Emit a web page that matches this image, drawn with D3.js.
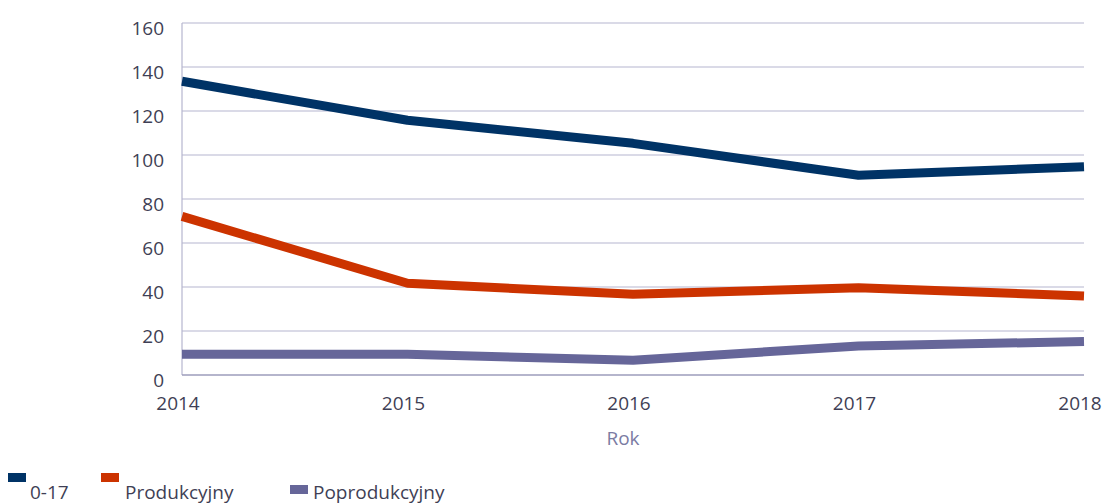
<!DOCTYPE html>
<html>
<head>
<meta charset="utf-8">
<script src="https://cdn.jsdelivr.net/npm/d3@7"></script>
<style>
  body { margin: 0; background: #fff; }
  svg { display: block; font-family: "Open Sans", sans-serif; }
</style>
</head>
<body>
<svg id="chart" width="1104" height="504"></svg>
<script>
const years = ["2014", "2015", "2016", "2017", "2018"];
const yTicks = [0, 20, 40, 60, 80, 100, 120, 140, 160];
const seriesNames = ["0-17", "Produkcyjny", "Poprodukcyjny"];
const seriesColors = ["#003366", "#cc3300", "#666699"];
const valsChildren = [133.5, 115.8, 105.3, 90.8, 94.7];
const valsWorking = [72.1, 41.7, 36.7, 39.7, 35.9];
const valsRetired = [9.4, 9.4, 6.7, 13.2, 15.2];

const allSeries = [valsChildren, valsWorking, valsRetired];

const svg = d3.select("#chart");
const plotLeft = 182, plotRight = 1084, plotTop = 23, plotBottom = 375;

const x = d3.scalePoint().domain(years).range([plotLeft, plotRight]);
const y = d3.scaleLinear().domain([0, 160]).range([plotBottom, plotTop]);

// gridlines
svg.append("g")
  .selectAll("line")
  .data(yTicks.filter(d => d > 0))
  .join("line")
  .attr("x1", plotLeft).attr("x2", plotRight)
  .attr("y1", d => y(d)).attr("y2", d => y(d))
  .attr("stroke", "#b6b6cf").attr("stroke-width", 1.2);

// axis lines
svg.append("line")
  .attr("x1", plotLeft).attr("x2", plotLeft).attr("y1", plotTop).attr("y2", plotBottom)
  .attr("stroke", "#b6b6cf").attr("stroke-width", 1.2);
svg.append("line")
  .attr("x1", plotLeft).attr("x2", plotRight).attr("y1", plotBottom).attr("y2", plotBottom)
  .attr("stroke", "#9d9dbb").attr("stroke-width", 1.4);

// y labels
svg.append("g")
  .attr("font-size", 19).attr("fill", "#3f3f55").attr("text-anchor", "end")
  .selectAll("text")
  .data(yTicks)
  .join("text")
  .attr("x", 164)
  .attr("y", d => y(d) + 5)
  .attr("dy", "0.35em")
  .text(d => d);

// x labels
svg.append("g")
  .attr("font-size", 19).attr("fill", "#3f3f55").attr("text-anchor", "middle")
  .selectAll("text")
  .data(years)
  .join("text")
  .attr("x", d => x(d) - 4)
  .attr("y", 403)
  .attr("dy", "0.35em")
  .text(d => d);

svg.append("text")
  .attr("x", 623).attr("y", 438).attr("dy", "0.35em")
  .attr("font-size", 19).attr("fill", "#7b7ba3").attr("text-anchor", "middle")
  .text("Rok");

// lines
const line = d3.line()
  .x((d, i) => x(years[i]))
  .y(d => y(d));

svg.append("g")
  .selectAll("path")
  .data(allSeries)
  .join("path")
  .attr("d", line)
  .attr("fill", "none")
  .attr("stroke", (d, i) => seriesColors[i])
  .attr("stroke-width", 9)
  .attr("stroke-linejoin", "round");

// legend (odd staggered layout like the original)
const legendPos = [
  {sx: 8, sy: 473, tx: 30},
  {sx: 101, sy: 473, tx: 125},
  {sx: 290, sy: 485, tx: 313}
];
const legend = svg.append("g");
legend.selectAll("rect")
  .data(seriesNames)
  .join("rect")
  .attr("x", (d, i) => legendPos[i].sx)
  .attr("y", (d, i) => legendPos[i].sy)
  .attr("width", 18).attr("height", 9)
  .attr("fill", (d, i) => seriesColors[i]);
legend.selectAll("text")
  .data(seriesNames)
  .join("text")
  .attr("x", (d, i) => legendPos[i].tx)
  .attr("y", 499)
  .attr("font-size", 19).attr("fill", "#3f3f55")
  .text(d => d);
</script>
</body>
</html>
